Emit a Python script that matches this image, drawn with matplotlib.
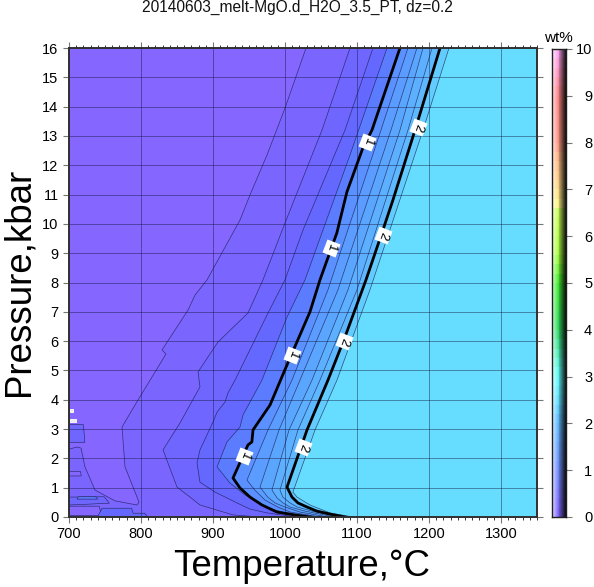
import numpy as np
import matplotlib
matplotlib.use("Agg")
import matplotlib.pyplot as plt
from matplotlib.ticker import MultipleLocator
from matplotlib.patches import Polygon
from matplotlib.markers import MarkerStyle
from matplotlib.transforms import Affine2D

plt.rcParams['font.family'] = ['Liberation Sans', 'DejaVu Sans']

title = "20140603_melt-MgO.d_H2O_3.5_PT, dz=0.2"
x_label = "Temperature,°C"
y_label = "Pressure,kbar"
cbar_label = "wt%"

# isolines of melt water content, wt%: temperature (°C), pressure (kbar)
T02 = [1029.2,1000,975,951.4,937.5,891.7,875,865.3,829.2,834.7,795.8,773.6,777.8,797.2,794.4,763.9,736.1,722.2,716.7,711,701.4,700,700]
P02 = [16,13.95,12.35,10.99,10.13,8.09,7.57,7.06,5.7,5.56,3.99,3.07,1.71,.51,.41,.55,.92,1.71,2.35,2.39,2.32,2.3,0]
T04 = [1090.3,1051.4,1000,969.4,948.6,906.9,879.2,881.9,854.2,830.6,850,868,881.9,927.8,965.3]
P04 = [16,13.2,10.03,8.09,6.96,5.97,4.95,4.44,3.21,2.29,1.02,.68,.41,.07,0]
T06 = [1122.2,1083.3,1025,1000,976.4,930.6,920.8,916.7,905.6,900,881.9,877.8,881.9,902.8,933.3,951.4,975,1016.7]
P06 = [16,13.2,9.79,8.09,6.96,4.67,4.23,3.92,3.58,3.24,2.29,1.84,1.19,.85,.48,.27,.14,0]
T08 = [1141.7,1090.3,1027.8,1002.8,968,941.7,937.5,919.4,905.6,923.6,944.6,975,1007,1034.7]
P08 = [16,12.35,8.09,6.82,4.67,3.48,3.07,2.56,1.71,1.16,.75,.31,.1,0]
T10 = [1159.7,1120.8,1108.3,1086,1072,1048.6,1034.7,1002.8,979.2,955.6,954,948.6,927.8,937.5,951.4,968,988.9,1014,1035]
P10 = [16,13.2,12.6,11.09,9.69,8.09,7,5.19,3.82,2.97,2.56,2.46,1.33,.99,.68,.41,.17,.07,0]
T12 = [1170.8,1133.3,1059.7,1009.7,976.4,947.2,958,972.2,990,1007,1048.6]
P12 = [16,13.2,7.75,4.67,2.97,1.26,.92,.58,.34,.17,0]
T14 = [1183.3,1147.2,1073.6,1020.8,991.7,965.3,976,986.1,1000,1020.8,1059.7]
P14 = [16,13.2,7.75,4.67,2.97,1.02,.68,.48,.34,.17,0]
T16 = [1191.7,1159.7,1087.5,1037.5,1005.6,981.9,989,997.2,1007,1027.8,1069.4]
P16 = [16,13.2,7.75,4.67,2.97,.92,.65,.48,.34,.2,0]
T18 = [1204.2,1170.8,1100,1048.6,1018,993,997,1007,1017,1037.5,1076.4]
P18 = [16,13.2,7.75,4.67,2.97,.92,.68,.48,.34,.2,0]
T20 = [1215.3,1180.6,1150,1136,1112.5,1083.3,1059.7,1030.6,1002.8,1009.7,1018,1030.6,1044.4,1062.5,1083.3]
P20 = [16,13.2,10.82,9.79,8.09,6.14,4.67,2.97,1.02,.68,.48,.34,.2,.1,0]
T22 = [1227.8,1191.7,1118,1072.2,1041.7,1011,1016.7,1034.7,1062.5,1094.4]
P22 = [16,13.2,7.75,4.67,2.97,.85,.68,.41,.14,0]

isolines = [(T02,P02),(T04,P04),(T06,P06),(T08,P08),(T10,P10),(T12,P12),
            (T14,P14),(T16,P16),(T18,P18),(T20,P20),(T22,P22)]
thick_index = [4, 9]

band_colors = ["#8566ff","#7a66ff","#6f66ff","#6568ff","#5c7cff","#5a90ff",
               "#5a9cff","#5aa6ff","#5cb0ff","#5eb8ff","#62ccff","#66ddff"]

# noisy low-temperature patches: temperature, pressure, band index
patches_low = [
    ([700,745,742,700], [.05,.05,.37,.37], 0),
    ([701,749,756,701], [.68,.69,.47,.41], 2),
    ([713,737,740,711], [.69,.69,.61,.61], 4),
    ([740,746,787,789,805,809,745], [.02,.3,.3,.13,.13,.02,.02], 3),
    ([700,720,722,700], [3.15,3.15,2.55,2.55], 2),
    ([700,716,717,700], [1.55,1.55,1.4,1.4], 0),
]
white_T = [[701,707,707,701],[701,711,711,701]]
white_P = [[3.55,3.55,3.67,3.67],[3.22,3.22,3.35,3.35]]

label_T = [1113.9,1063.9,1009.7,943,1184.7,1136,1081.9,1025]
label_P = [12.8,9.18,5.53,2.08,13.3,9.62,6.0,2.39]
label_text = ["1","1","1","1","2","2","2","2"]
label_rot = [-110,-108,-112,-113,-108,-110,-110,-108]

# colour bar palette
bar_values = [0,2.2,2.4,3,3.5,4,5,5.6,6.6,6.61,7,7.6,8,9,9.6,10]
bar_colors = ["#8566ff","#60c4ff","#66ddff","#66ffff","#55eebb","#33dd66","#44ee33","#aaff44","#d0ff60","#ffff88",
              "#ffdd88","#ffbb88","#ff9988","#ff8888","#ff99cc","#ffaaff"]

fig = plt.figure(figsize=(5.94, 5.87), dpi=100)
W, H = 594.0, 587.0
ax = fig.add_axes([69/W, (587-517)/H, 468/W, 469/H])
ax.set_xlim(700, 1350)
ax.set_ylim(0, 16)
ax.set_facecolor(band_colors[0])

for i, (T, P) in enumerate(isolines):
    ax.fill(list(T)+[1350,1350], list(P)+[0,16], color=band_colors[i+1], lw=0, zorder=1)

for T, P, k in patches_low:
    ax.add_patch(Polygon(np.column_stack([T, P]), closed=True, fc=band_colors[k],
                         ec="#222255", lw=0.4, zorder=1.2))
for T, P in zip(white_T, white_P):
    ax.fill(T, P, color="#eeeeee", lw=0, zorder=1.3)

ax.set_xticks(np.arange(700, 1301, 100))
ax.set_yticks(np.arange(0, 17, 1))
ax.xaxis.set_minor_locator(MultipleLocator(10))
ax.grid(True, which='major', color='#10103a', alpha=0.5, lw=0.6, zorder=1.5)
ax.set_axisbelow('line')

for i, (T, P) in enumerate(isolines):
    if i in thick_index:
        ax.plot(T, P, color='black', lw=2.0, solid_joinstyle='round', zorder=3)
    else:
        ax.plot(T, P, color='#141440', lw=0.5, alpha=0.7, zorder=2.5)

for x, y, s, r in zip(label_T, label_P, label_text, label_rot):
    ax.plot([x], [y], ls='none', zorder=3.8, ms=10, mfc='white', mec='none',
            marker=MarkerStyle('s', transform=Affine2D().rotate_deg(r)))
    ax.text(x, y, s, rotation=r, rotation_mode='anchor', ha='center', va='center',
            fontsize=9.5, color='black', zorder=4)

ax.set_yticklabels([str(v) for v in range(0, 17)])
ax.tick_params(axis='both', which='major', direction='out', length=4.5, width=0.8,
               color='#777777', labelsize=10.5, top=True, right=True, pad=3)
ax.tick_params(axis='x', which='minor', direction='out', length=2.3, width=0.7,
               color='#333333', top=True, bottom=True)
for s in ax.spines.values():
    s.set_linewidth(1.4)
    s.set_color('#303030')
    s.set_zorder(5)

# colour bar
cax = fig.add_axes([552/W, (587-517)/H, 14/W, 468/H])
levels = np.arange(0.1, 10, 0.2)
stops = np.array([matplotlib.colors.to_rgb(c) for c in bar_colors])
base = np.column_stack([np.interp(levels, bar_values, stops[:, j]) for j in range(3)])
u = np.linspace(0, 1, 15)
mid = 0.4
img = np.zeros((len(levels), len(u), 3))
for j, t in enumerate(u):
    if t < mid:
        f = (mid - t) / mid * 0.7
        img[:, j] = base * (1 - f) + f
    else:
        f = (t - mid) / (1 - mid) * 0.88
        img[:, j] = base * (1 - f)
cax.imshow(img, origin='lower', aspect='auto', extent=[0, 1, 0, 10], interpolation='nearest')
cax.set_xticks([])
cax.set_yticks(np.arange(0, 11, 1))
cax.yaxis.tick_right()
cax.tick_params(axis='y', direction='out', length=4.5, width=0.8, color='#777777',
                labelsize=10.5, pad=14.4)
for lab in cax.get_yticklabels():
    lab.set_ha('right')
for s in cax.spines.values():
    s.set_linewidth(1.0)
    s.set_color('#202020')

fig.text(297/W, 1-7.5/H, title, ha='center', va='center', fontsize=11.2, color='#111111')
fig.text(558/W, 1-38/H, cbar_label, ha='center', va='center', fontsize=11)
fig.text(302/W, 1-566/H, x_label, ha='center', va='center', fontsize=26.4)
fig.text(19/W, 1-282/H, y_label, ha='center', va='center', rotation=90, fontsize=26.4)

fig.savefig("out.png", dpi=100)
